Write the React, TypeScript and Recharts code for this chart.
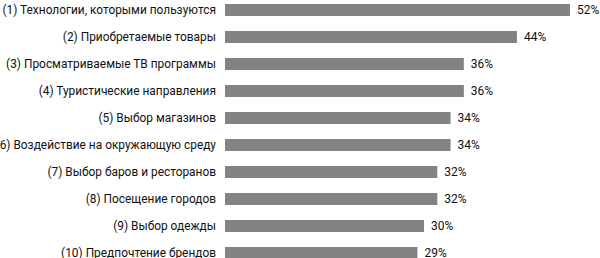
import React from "react";
import { BarChart, Bar, XAxis, YAxis, LabelList } from "recharts";

// категории и значения (%)
const categories = [
  "(1) Технологии, которыми пользуются",
  "(2) Приобретаемые товары",
  "(3) Просматриваемые ТВ программы",
  "(4) Туристические направления",
  "(5) Выбор магазинов",
  "(6) Воздействие на окружающую среду",
  "(7) Выбор баров и ресторанов",
  "(8) Посещение городов",
  "(9) Выбор одежды",
  "(10) Предпочтение брендов",
];
const values = [52, 44, 36, 36, 34, 34, 32, 32, 30, 29];

const data = categories.map((name, i) => ({ name, value: values[i] }));

const FONT = "Roboto, 'Open Sans', sans-serif";
const TEXT = "#111111";

// подпись без переноса строк
const CategoryTick = (props: any) => {
  const { x, y, payload } = props;
  return (
    <text
      x={x}
      y={y}
      dy="0.35em"
      textAnchor="end"
      fill={TEXT}
      fontSize={11.9}
      fontFamily={FONT}
    >
      {payload.value}
    </text>
  );
};

const App: React.FC = () => {
  return (
    <div style={{ position: "absolute", left: 0, top: -4 }}>
      <BarChart
        width={600}
        height={270}
        data={data}
        layout="vertical"
        margin={{ top: 0, right: 30, bottom: 0, left: 0 }}
        barCategoryGap={15}
      >
        <XAxis type="number" domain={[0, 52]} hide />
        <YAxis
          type="category"
          dataKey="name"
          width={225}
          axisLine={false}
          tickLine={false}
          tickSize={0}
          tickMargin={9}
          interval={0}
          tick={<CategoryTick />}
        />
        <Bar dataKey="value" fill="#838383" barSize={12} isAnimationActive={false}>
          <LabelList
            dataKey="value"
            position="right"
            offset={7}
            formatter={(v: number) => `${v}%`}
            style={{ fill: TEXT, fontSize: 12, fontFamily: FONT }}
          />
        </Bar>
      </BarChart>
    </div>
  );
};

export default App;
